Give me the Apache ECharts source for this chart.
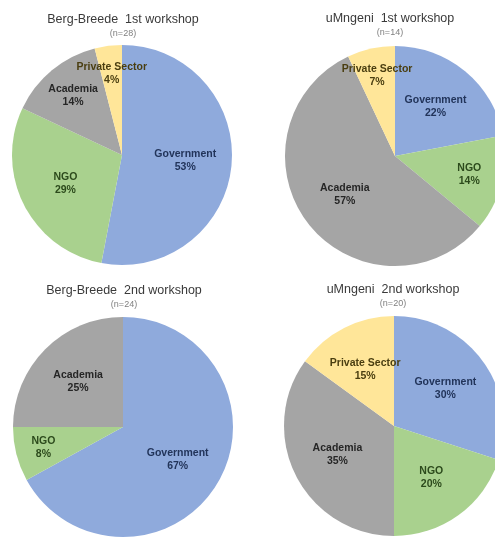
<!DOCTYPE html>
<html>
<head>
<meta charset="utf-8">
<title>Workshop participants by sector</title>
<script src="https://cdn.jsdelivr.net/npm/echarts@6/dist/echarts.min.js"></script>
<style>
  html, body { margin: 0; padding: 0; background: #ffffff; }
  #chart { width: 495px; height: 537px; }
</style>
</head>
<body>
<div id="chart"></div>
<script>
// Sectors, in clockwise order from 12 o'clock
const categories = ['Government', 'NGO', 'Academia', 'Private Sector'];

// Share of participants (%) per sector; null = sector not represented
const bergBreede1 = [53, 29, 14, 4];
const uMngeni1    = [22, 14, 57, 7];
const bergBreede2 = [67, 8, 25, null];
const uMngeni2    = [30, 20, 35, 15];

const workshopTitles = [
  'Berg-Breede  1st workshop',
  'uMngeni  1st workshop',
  'Berg-Breede  2nd workshop',
  'uMngeni  2nd workshop'
];
const sampleSizes = [28, 14, 24, 20];

// Slice fill and label colours per sector
const sliceColors = {
  'Government': '#8faadc',
  'NGO': '#a9d18e',
  'Academia': '#a5a5a5',
  'Private Sector': '#ffe699'
};
const labelColors = {
  'Government': '#22345a',
  'NGO': '#2c4a1c',
  'Academia': '#262626',
  'Private Sector': '#4a3e10'
};

// Panel geometry
const R = 110;
const panels = [
  { cx: 122, cy: 155, tx: 123, ty: 13 },
  { cx: 395, cy: 156, tx: 390, ty: 12 },
  { cx: 123, cy: 427, tx: 124, ty: 284 },
  { cx: 394, cy: 426, tx: 393, ty: 283 }
];
const valueSets = [bergBreede1, uMngeni1, bergBreede2, uMngeni2];

function buildData(values) {
  const out = [];
  values.forEach(function (v, i) {
    if (v === null || v === undefined) return;
    const name = categories[i];
    out.push({
      name: name,
      value: v,
      itemStyle: { color: sliceColors[name] },
      label: { color: labelColors[name] }
    });
  });
  return out;
}

// Narrow slices get their labels pushed further out along the bisector
function labelShift(data) {
  const total = data.reduce(function (s, d) { return s + d.value; }, 0);
  return function (params) {
    let cum = 0;
    for (let k = 0; k < params.dataIndex; k++) cum += data[k].value;
    const v = data[params.dataIndex].value;
    const share = v / total;
    const f = share < 0.1 ? 0.72 : (share < 0.15 ? 0.67 : 0.55);
    const dr = (f - 0.5) * R;
    const a = (90 - 360 * (cum + v / 2) / total) * Math.PI / 180;
    return { dx: Math.cos(a) * dr, dy: -Math.sin(a) * dr };
  };
}

const titles = panels.map(function (p, i) {
  return {
    text: workshopTitles[i],
    subtext: '(n=' + sampleSizes[i] + ')',
    left: p.tx,
    top: p.ty,
    textAlign: 'center',
    itemGap: 3,
    padding: 0,
    textStyle: {
      fontFamily: 'Liberation Sans, Arial, sans-serif',
      fontSize: 12.5,
      fontWeight: 'normal',
      color: '#3a3a3a'
    },
    subtextStyle: {
      fontFamily: 'Liberation Sans, Arial, sans-serif',
      fontSize: 9,
      color: '#808080'
    }
  };
});

const series = panels.map(function (p, i) {
  const data = buildData(valueSets[i]);
  return {
    type: 'pie',
    center: [p.cx, p.cy],
    radius: [0, R],
    startAngle: 90,
    clockwise: true,
    avoidLabelOverlap: false,
    itemStyle: { borderWidth: 0 },
    label: {
      show: true,
      position: 'inside',
      formatter: '{b}\n{c}%',
      fontFamily: 'Liberation Sans, Arial, sans-serif',
      fontSize: 10.5,
      fontWeight: 'bold',
      lineHeight: 13,
      align: 'center'
    },
    labelLine: { show: false },
    labelLayout: labelShift(data),
    emphasis: { disabled: true },
    data: data
  };
});

const chart = echarts.init(document.getElementById('chart'), null, { renderer: 'canvas' });
chart.setOption({
  backgroundColor: '#ffffff',
  animation: false,
  title: titles,
  series: series
});
</script>
</body>
</html>
